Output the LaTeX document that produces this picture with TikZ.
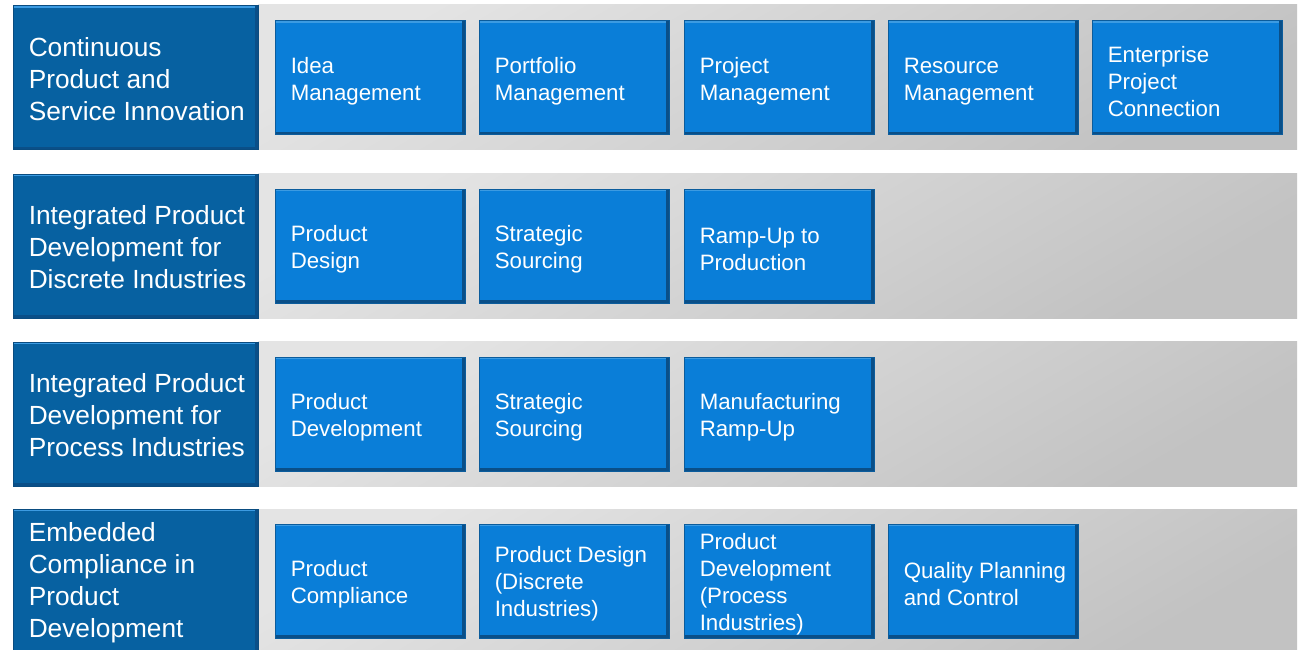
\documentclass[tikz,border=0pt]{standalone}
\usepackage{fontspec}
\setmainfont{Liberation Sans}
\definecolor{leftblue}{HTML}{0761A1}
\definecolor{leftedge}{HTML}{0A4C80}
\definecolor{boxblue}{HTML}{0A7ED8}
\definecolor{boxedge}{HTML}{0B5C9C}
\definecolor{bevdark}{HTML}{0A4F88}
\definecolor{bevlight}{HTML}{3C9BE2}
\definecolor{bandlight}{HTML}{E4E4E4}
\definecolor{bandmid}{HTML}{B9B9B9}
\definecolor{banddark}{HTML}{C2C2C2}
\tikzset{
  bevel/.style={path picture={
    \fill[bevdark] (path picture bounding box.south west) rectangle ([yshift=2.25pt]path picture bounding box.south east);
    \fill[bevdark] ([xshift=-2.25pt]path picture bounding box.south east) rectangle (path picture bounding box.north east);
    \fill[bevlight] ([yshift=-1.5pt]path picture bounding box.north west) rectangle ([xshift=-2.25pt]path picture bounding box.north east);
  }},
  bluebox/.style={rectangle, fill=boxblue, draw=boxedge, line width=0.75pt, inner sep=0pt,
    minimum width=142.5pt, minimum height=85.5pt, bevel},
  leftbox/.style={rectangle, fill=leftblue, draw=leftedge, line width=0.75pt, inner sep=0pt,
    minimum width=183.75pt, minimum height=108pt, bevel},
  bluetext/.style={anchor=west, align=left, inner sep=0pt, text=white,
    font=\fontsize{16.7pt}{20.25pt}\selectfont},
  lefttext/.style={anchor=west, align=left, inner sep=0pt, text=white,
    font=\fontsize{19.7pt}{24pt}\selectfont},
  band/.style={shading=axis, top color=bandlight, middle color=bandmid, bottom color=banddark, shading angle=30},
}
\begin{document}
\begin{tikzpicture}[x=0.75pt,y=-0.75pt]
\useasboundingbox (0,0) rectangle (1301,649);
\clip (0,0) rectangle (1301,649);
\fill[white] (0,0) rectangle (1301,649);
% bands
\shade[band] (258,5) rectangle (1297,150);
\shade[band] (258,173) rectangle (1297,318);
\shade[band] (258,341) rectangle (1297,486);
\shade[band] (258,509) rectangle (1297,654);
% left boxes
\node[leftbox] (L1) at (135.5,78) {};
\node[leftbox] (L2) at (135.5,246) {};
\node[leftbox] (L3) at (135.5,414) {};
\node[leftbox, minimum height=109.5pt] (L4) at (135.5,582) {};
\tikzset{lt/.style={xshift=12pt,yshift=-0.75pt}, bt/.style={xshift=12pt,yshift=-2.4pt}}
\node[lefttext] (LT1) at ([lt]L1.west) {Continuous\\Product and\\Service Innovation};
\node[lefttext] (LT2) at ([lt]L2.west) {Integrated Product\\Development for\\Discrete Industries};
\node[lefttext] (LT3) at ([lt]L3.west) {Integrated Product\\Development for\\Process Industries};
\node[lefttext] (LT4) at ([lt]L4.west) {Embedded\\Compliance in\\Product\\Development};
% row 1
\node[bluebox] (A1) at (370,78) {};
\node[bluebox] (A2) at (574,78) {};
\node[bluebox] (A3) at (779,78) {};
\node[bluebox] (A4) at (983,78) {};
\node[bluebox] (A5) at (1187,78) {};
\node[bluetext] (AT1) at ([bt]A1.west) {Idea\\Management};
\node[bluetext] (AT2) at ([bt]A2.west) {Portfolio\\Management};
\node[bluetext] (AT3) at ([bt]A3.west) {Project\\Management};
\node[bluetext] (AT4) at ([bt]A4.west) {Resource\\Management};
\node[bluetext] (AT5) at ([bt]A5.west) {Enterprise\\Project\\Connection};
% row 2
\node[bluebox] (B1) at (370,246) {};
\node[bluebox] (B2) at (574,246) {};
\node[bluebox] (B3) at (779,246) {};
\node[bluetext] (BT1) at ([bt]B1.west) {Product\\Design};
\node[bluetext] (BT2) at ([bt]B2.west) {Strategic\\Sourcing};
\node[bluetext] (BT3) at ([bt]B3.west) {Ramp-Up to\\Production};
% row 3
\node[bluebox] (C1) at (370,414) {};
\node[bluebox] (C2) at (574,414) {};
\node[bluebox] (C3) at (779,414) {};
\node[bluetext] (CT1) at ([bt]C1.west) {Product\\Development};
\node[bluetext] (CT2) at ([bt]C2.west) {Strategic\\Sourcing};
\node[bluetext] (CT3) at ([bt]C3.west) {Manufacturing\\Ramp-Up};
% row 4
\node[bluebox] (D1) at (370,581) {};
\node[bluebox] (D2) at (574,581) {};
\node[bluebox] (D3) at (779,581) {};
\node[bluebox] (D4) at (983,581) {};
\node[bluetext] (DT1) at ([bt]D1.west) {Product\\Compliance};
\node[bluetext] (DT2) at ([bt]D2.west) {Product Design\\(Discrete\\Industries)};
\node[bluetext] (DT3) at ([bt]D3.west) {Product\\Development\\(Process\\Industries)};
\node[bluetext] (DT4) at ([bt]D4.west) {Quality Planning\\and Control};
\end{tikzpicture}
\end{document}
